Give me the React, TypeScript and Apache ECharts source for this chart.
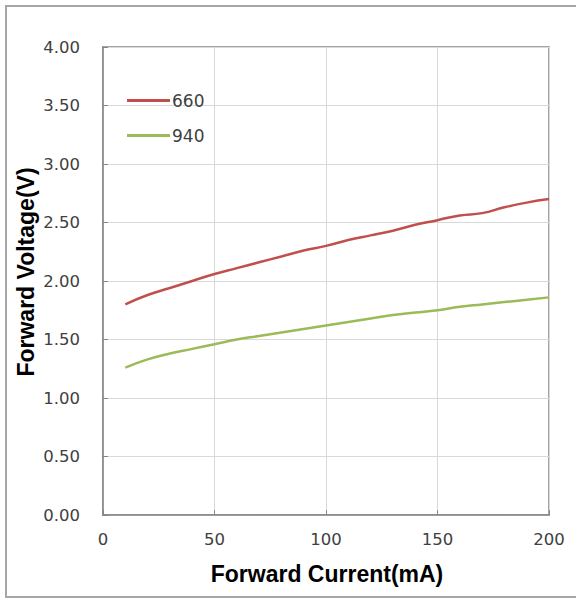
import React, { useEffect, useRef } from "react";
import * as echarts from "echarts";

const currents = [10, 20, 30, 40, 50, 60, 70, 80, 90, 100, 110, 120, 130, 140, 150, 160, 170, 180, 190, 200];
const v660 = [1.80, 1.88, 1.94, 2.00, 2.06, 2.11, 2.16, 2.21, 2.26, 2.30, 2.35, 2.39, 2.43, 2.48, 2.52, 2.56, 2.58, 2.63, 2.67, 2.70];
const v940 = [1.26, 1.33, 1.38, 1.42, 1.46, 1.50, 1.53, 1.56, 1.59, 1.62, 1.65, 1.68, 1.71, 1.73, 1.75, 1.78, 1.80, 1.82, 1.84, 1.86];
const seriesNames = ["660", "940"];
const seriesColors = ["#c0504d", "#9bbb59"];
const xTitle = "Forward Current(mA)";
const yTitle = "Forward Voltage(V)";

const FONT = "'Liberation Sans', Arial, sans-serif";
const NUMFONT = "'DejaVu Sans', sans-serif";

export default function App() {
  const ref = useRef<HTMLDivElement>(null);
  useEffect(() => {
    if (!ref.current) return;
    const chart = echarts.init(ref.current, undefined, { renderer: "svg" });
    const values = [v660, v940];
    chart.setOption({
      animation: false,
      backgroundColor: "#ffffff",
      graphic: [
        {
          type: "rect",
          shape: { x: 6, y: 6, width: 600, height: 591 },
          style: { fill: "none", stroke: "#a6a6a6", lineWidth: 2 },
          silent: true,
          z: 0,
        },
        {
          type: "text",
          x: 327,
          y: 574,
          style: {
            text: xTitle,
            fontFamily: FONT,
            fontSize: 23,
            fontWeight: "bold",
            fill: "#000",
            align: "center",
            verticalAlign: "middle",
          },
        },
        {
          type: "text",
          x: 26,
          y: 272,
          rotation: Math.PI / 2,
          style: {
            text: yTitle,
            fontFamily: FONT,
            fontSize: 23,
            fontWeight: "bold",
            fill: "#000",
            align: "center",
            verticalAlign: "middle",
          },
        },
      ],
      grid: {
        left: 103,
        top: 47,
        right: 27,
        bottom: 83,
        show: true,
        borderColor: "#868686",
        borderWidth: 1.5,
        backgroundColor: "transparent",
      },
      legend: {
        orient: "vertical",
        left: 127,
        top: 92,
        padding: 0,
        icon: "rect",
        itemWidth: 43,
        itemHeight: 3,
        itemGap: 18,
        data: seriesNames,
        textStyle: { fontFamily: NUMFONT, fontSize: 17, color: "#404040", padding: [0, 0, 0, -3] },
      },
      xAxis: {
        type: "value",
        min: 0,
        max: 200,
        interval: 50,
        axisLine: { show: true, lineStyle: { color: "#868686", width: 1.5 } },
        axisTick: { show: true, inside: true, length: 5, lineStyle: { color: "#868686" } },
        axisLabel: { fontFamily: NUMFONT, fontSize: 16.5, color: "#404040", margin: 16 },
        splitLine: { show: true, lineStyle: { color: "#d9d9d9", width: 1 } },
      },
      yAxis: {
        type: "value",
        min: 0,
        max: 4,
        interval: 0.5,
        axisLine: { show: true, lineStyle: { color: "#868686", width: 1.5 } },
        axisTick: { show: true, inside: true, length: 5, lineStyle: { color: "#868686" } },
        axisLabel: {
          fontFamily: NUMFONT,
          fontSize: 16.5,
          color: "#404040",
          margin: 23,
          formatter: (v: number) => v.toFixed(2),
        },
        splitLine: { show: true, lineStyle: { color: "#d9d9d9", width: 1 } },
      },
      series: seriesNames.map((name, i) => ({
        name,
        type: "line",
        data: currents.map((c, j) => [c, values[i][j]]),
        showSymbol: false,
        symbol: "none",
        smooth: true,
        lineStyle: { color: seriesColors[i], width: 2.5 },
        itemStyle: { color: seriesColors[i] },
      })),
    });
    return () => chart.dispose();
  }, []);
  return (
    <div
      ref={ref}
      style={{ position: "fixed", left: 0, top: 0, width: 576, height: 598, background: "#fff" }}
    />
  );
}
